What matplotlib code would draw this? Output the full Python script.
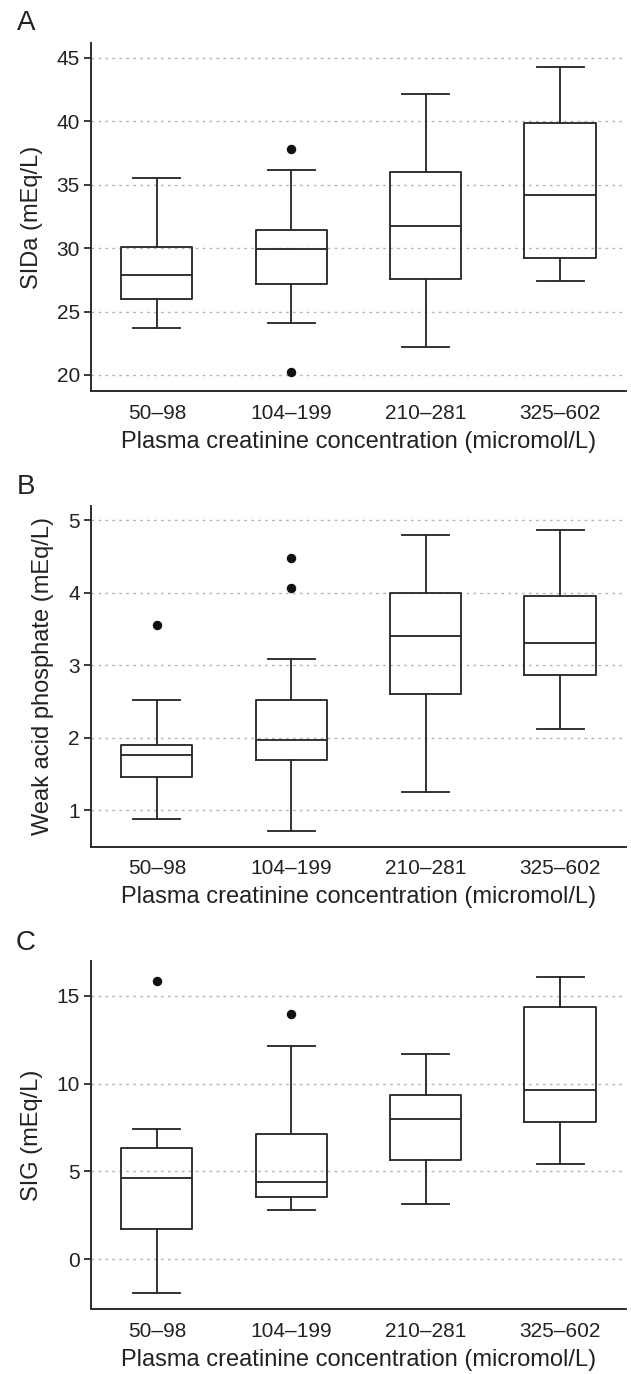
import matplotlib
matplotlib.use("Agg")
import matplotlib.pyplot as plt

plt.rcParams['font.family'] = ['Liberation Sans', 'DejaVu Sans']

categories = ["50\u201398", "104\u2013199", "210\u2013281", "325\u2013602"]
xlabel = "Plasma creatinine concentration (micromol/L)"

# Panel A: SIDa (mEq/L)
sida_whislo = [23.7, 24.1, 22.2, 27.4]
sida_q1 = [26.0, 27.15, 27.57, 29.25]
sida_med = [27.87, 29.95, 31.72, 34.19]
sida_q3 = [30.1, 31.4, 35.98, 39.88]
sida_whishi = [35.5, 36.15, 42.14, 44.32]
sida_fliers = [[], [37.8, 20.24], [], []]

# Panel B: Weak acid phosphate (mEq/L)
phos_whislo = [0.88, 0.72, 1.25, 2.12]
phos_q1 = [1.455, 1.70, 2.61, 2.86]
phos_med = [1.76, 1.97, 3.40, 3.31]
phos_q3 = [1.90, 2.52, 3.99, 3.96]
phos_whishi = [2.52, 3.09, 4.80, 4.86]
phos_fliers = [[3.56], [4.48, 4.07], [], []]

# Panel C: SIG (mEq/L)
sig_whislo = [-1.94, 2.80, 3.12, 5.40]
sig_q1 = [1.74, 3.56, 5.63, 7.84]
sig_med = [4.64, 4.41, 8.0, 9.64]
sig_q3 = [6.33, 7.13, 9.37, 14.37]
sig_whishi = [7.43, 12.13, 11.67, 16.1]
sig_fliers = [[15.85], [13.96], [], []]

H = 1374.0
panels = [
    dict(letter="A", letter_y=23, ylabel="SIDa (mEq/L)", lo=sida_whislo, q1=sida_q1, med=sida_med,
         q3=sida_q3, hi=sida_whishi, fl=sida_fliers, ylim=(18.7, 46.2), ticks=[20, 25, 30, 35, 40, 45],
         rect=[0.1442, 0.7151, 0.8478, 0.2538]),
    dict(letter="B", letter_y=487, ylabel="Weak acid phosphate (mEq/L)", lo=phos_whislo, q1=phos_q1, med=phos_med,
         q3=phos_q3, hi=phos_whishi, fl=phos_fliers, ylim=(0.5, 5.2), ticks=[1, 2, 3, 4, 5],
         rect=[0.1442, 0.3838, 0.8478, 0.2482]),
    dict(letter="C", letter_y=943, ylabel="SIG (mEq/L)", lo=sig_whislo, q1=sig_q1, med=sig_med,
         q3=sig_q3, hi=sig_whishi, fl=sig_fliers, ylim=(-2.85, 17.0), ticks=[0, 5, 10, 15],
         rect=[0.1442, 0.0471, 0.8478, 0.2537]),
]

LC = "#2b2b2b"
TC = "#222222"
fig = plt.figure(figsize=(6.31, 13.74), dpi=100)

for p in panels:
    ax = fig.add_axes(p["rect"])
    stats = []
    for i in range(4):
        stats.append(dict(whislo=p["lo"][i], q1=p["q1"][i], med=p["med"][i], q3=p["q3"][i],
                          whishi=p["hi"][i], fliers=p["fl"][i], label=categories[i]))
    ax.bxp(stats, positions=[1, 2, 3, 4], widths=0.53, capwidths=0.35, showfliers=True,
           boxprops=dict(color=LC, linewidth=1.35),
           whiskerprops=dict(color=LC, linewidth=1.35),
           capprops=dict(color=LC, linewidth=1.35),
           medianprops=dict(color=LC, linewidth=1.35),
           flierprops=dict(marker='o', markerfacecolor='#111111', markeredgecolor='#111111',
                           markersize=5.8, linestyle='none'))
    ax.set_xlim(0.51, 4.49)
    ax.set_ylim(*p["ylim"])
    ax.set_yticks(p["ticks"])
    ax.set_yticklabels([str(t) for t in p["ticks"]])
    ax.yaxis.grid(True, linestyle=(0, (2, 3)), color="#b5b5b5", linewidth=1.0)
    ax.set_axisbelow(True)
    for s in ["top", "right"]:
        ax.spines[s].set_visible(False)
    for s in ["left", "bottom"]:
        ax.spines[s].set_color(LC)
        ax.spines[s].set_linewidth(1.4)
    ax.tick_params(axis='y', length=5, width=1.3, color=LC, labelsize=15, pad=3, labelcolor=TC)
    ax.tick_params(axis='x', length=0, labelsize=15, pad=9, labelcolor=TC)
    ax.set_ylabel(p["ylabel"], fontsize=17, color=TC, labelpad=10)
    ax.set_xlabel(xlabel, fontsize=17, color=TC, labelpad=6)
    fig.text(26 / 631.0, 1 - p["letter_y"] / H, p["letter"], fontsize=20, color=TC,
             ha="center", va="center")

fig.savefig("out.png", dpi=100)
